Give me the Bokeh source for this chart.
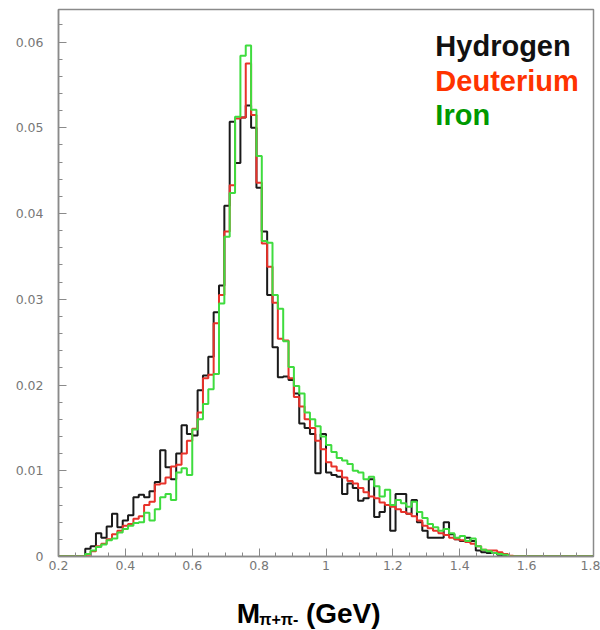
from bokeh.plotting import figure
from bokeh.layouts import column
from bokeh.models import Label, FixedTicker, CustomJSTickFormatter, Range1d
from bokeh.core.properties import value
from bokeh.embed import file_html
from bokeh.resources import INLINE
import numpy as np

# histogram binning (GeV)
bin_lo = 0.2
bin_width = 0.016
n_bins = 100

hydrogen = [
    0, 0, 0, 0, 0, 0.0009, 0.0012, 0.0027, 0.0022, 0.0035,
    0.0050, 0.0034, 0.0042, 0.0048, 0.0069, 0.0072, 0.0069, 0.0076, 0.0087, 0.0124,
    0.0104, 0.0090, 0.0120, 0.0153, 0.0143, 0.0141, 0.0194, 0.0211, 0.0233, 0.0285,
    0.0316, 0.0409, 0.0507, 0.0459, 0.0512, 0.0526, 0.0500, 0.0430, 0.0379, 0.0305,
    0.0244, 0.0209, 0.0210, 0.0206, 0.0190, 0.0155, 0.0150, 0.0143, 0.0097, 0.0143,
    0.0098, 0.0095, 0.0093, 0.0073, 0.0085, 0.0080, 0.0065, 0.0068, 0.0090, 0.0046,
    0.0052, 0.0060, 0.0030, 0.0073, 0.0073, 0.0050, 0.0066, 0.0040, 0.0030, 0.0022,
    0.0022, 0.0022, 0.0040, 0.0026, 0.0020, 0.0018, 0.0022, 0.0018, 0.0007, 0.0005,
    0.0004, 0.0004, 0.0002, 0.0001, 0, 0, 0, 0, 0, 0,
    0, 0, 0, 0, 0, 0, 0, 0, 0, 0,
]
deuterium = [
    0, 0, 0, 0, 0, 0.0002, 0.0006, 0.0012, 0.0015, 0.0020,
    0.0026, 0.0030, 0.0036, 0.0038, 0.0044, 0.0047, 0.0060, 0.0064, 0.0084, 0.0085,
    0.0092, 0.0105, 0.0107, 0.0120, 0.0135, 0.0149, 0.0168, 0.0208, 0.0212, 0.0272,
    0.0305, 0.0379, 0.0433, 0.0511, 0.0512, 0.0575, 0.0515, 0.0436, 0.0365, 0.0338,
    0.0296, 0.0254, 0.0252, 0.0208, 0.0186, 0.0175, 0.0160, 0.0150, 0.0135, 0.0125,
    0.0110, 0.0105, 0.0100, 0.0092, 0.0088, 0.0085, 0.0080, 0.0075, 0.0070, 0.0068,
    0.0063, 0.0060, 0.0058, 0.0055, 0.0052, 0.0050, 0.0047, 0.0042, 0.0036, 0.0033,
    0.0030, 0.0027, 0.0025, 0.0022, 0.0020, 0.0019, 0.0017, 0.0015, 0.0012, 0.0008,
    0.0007, 0.0007, 0.0005, 0.0003, 0.0001, 0, 0, 0, 0, 0,
    0, 0, 0, 0, 0, 0, 0, 0, 0, 0,
]
iron = [
    0, 0, 0, 0, 0, 0.0003, 0.0007, 0.0011, 0.0014, 0.0019,
    0.0021, 0.0028, 0.0032, 0.0036, 0.0039, 0.0040, 0.0051, 0.0042, 0.0055, 0.0069,
    0.0073, 0.0066, 0.0098, 0.0103, 0.0095, 0.0148, 0.0160, 0.0178, 0.0195, 0.0213,
    0.0295, 0.0373, 0.0424, 0.0513, 0.0584, 0.0596, 0.0521, 0.0467, 0.0368, 0.0366,
    0.0305, 0.0289, 0.0251, 0.0221, 0.0199, 0.0190, 0.0168, 0.0160, 0.0152, 0.0140,
    0.0130, 0.0122, 0.0115, 0.0112, 0.0108, 0.0100, 0.0098, 0.0090, 0.0093, 0.0082,
    0.0070, 0.0078, 0.0060, 0.0066, 0.0062, 0.0058, 0.0064, 0.0052, 0.0045, 0.0038,
    0.0034, 0.0030, 0.0032, 0.0027, 0.0022, 0.0024, 0.0018, 0.0021, 0.0012, 0.0008,
    0.0006, 0.0004, 0.0003, 0.0002, 0, 0, 0, 0, 0, 0,
    0, 0, 0, 0, 0, 0, 0, 0, 0, 0,
]

x_ticks = [0.2, 0.4, 0.6, 0.8, 1.0, 1.2, 1.4, 1.6, 1.8]
y_ticks = [0, 0.01, 0.02, 0.03, 0.04, 0.05, 0.06]
series_names = ["Hydrogen", "Deuterium", "Iron"]
line_colors = ["#1a1a1a", "#e8322a", "#3fdc3f"]
text_colors = ["#111111", "#ff3300", "#009900"]
title_parts = ["M", "π+π-", "(GeV)"]

edges = bin_lo + bin_width * np.arange(n_bins + 1)

p = figure(width=600, height=576, output_backend="svg", toolbar_location=None,
           x_range=Range1d(0.2, 1.8), y_range=Range1d(0, 0.0638),
           min_border_left=58, min_border_right=7, min_border_top=9, min_border_bottom=20)

p.xgrid.visible = False
p.ygrid.visible = False
p.outline_line_color = "#8a8a8a"
p.outline_line_width = 1.5

fmt = CustomJSTickFormatter(code="return (Math.round(tick*1000)/1000).toString();")
for ax, ticks in ((p.xaxis[0], x_ticks), (p.yaxis[0], y_ticks)):
    ax.ticker = FixedTicker(ticks=ticks)
    ax.formatter = fmt
    ax.axis_line_color = "#8a8a8a"
    ax.axis_line_width = 1.5
    ax.major_tick_line_color = "#8a8a8a"
    ax.minor_tick_line_color = "#8a8a8a"
    ax.major_tick_in = 8
    ax.major_tick_out = 0
    ax.minor_tick_in = 4
    ax.minor_tick_out = 0
    ax.major_label_text_color = "#777777"
    ax.major_label_text_font = "DejaVu Sans"
    ax.major_label_text_font_size = "12.5px"
p.xaxis.major_label_standoff = 4
p.yaxis.major_label_standoff = 15
p.xaxis[0].ticker.minor_ticks = list(np.round(np.arange(0.2, 1.8001, 0.05), 3))
p.yaxis[0].ticker.minor_ticks = list(np.round(np.arange(0, 0.0641, 0.002), 4))

for vals, col in zip((hydrogen, deuterium, iron), line_colors):
    yy = list(vals) + [vals[-1]]
    p.step(x=edges, y=yy, mode="after", line_color=col, line_width=2)

# legend texts
leg_y = [0.0596, 0.0555, 0.0515]
for name, col, yv in zip(series_names, text_colors, leg_y):
    p.add_layout(Label(x=1.327, y=yv, text=name, text_color=col, text_font="Liberation Sans",
                       text_font_style="bold", text_font_size="29px", text_baseline="alphabetic"))

# x axis title in a strip below the plot
p2 = figure(width=600, height=54, output_backend="svg", toolbar_location=None,
            x_range=Range1d(0.2, 1.8), y_range=Range1d(0, 54),
            x_axis_location=None, y_axis_location=None,
            min_border_left=58, min_border_right=7, min_border_top=0, min_border_bottom=0)
p2.outline_line_color = None
p2.xgrid.visible = False
p2.ygrid.visible = False
p2.text(x=[0.733], y=[17], text=[title_parts[0]], text_color="black",
        text_font=value("Liberation Sans"), text_font_style="bold",
        text_font_size="28px", text_baseline="alphabetic")
p2.text(x=[0.800], y=[11], text=[title_parts[1]], text_color="black",
        text_font=value("Liberation Sans"), text_font_style="bold",
        text_font_size="16px", text_baseline="alphabetic")
p2.text(x=[0.940], y=[17], text=[title_parts[2]], text_color="black",
        text_font=value("Liberation Sans"), text_font_style="bold",
        text_font_size="28px", text_baseline="alphabetic")

layout = column(p, p2, spacing=0)
open("out.html", "w").write(file_html(layout, INLINE))
